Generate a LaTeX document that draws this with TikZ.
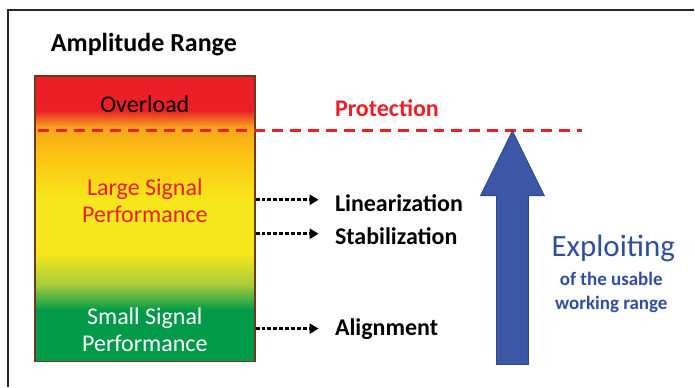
\documentclass[tikz,border=0pt]{standalone}
\usepackage{fontspec}
\setmainfont{Carlito}
\usepackage{tikz}
\usetikzlibrary{positioning,arrows.meta,calc}

\definecolor{ampred}{HTML}{EC1F26}
\definecolor{amporange}{HTML}{F7A51D}
\definecolor{ampgold}{HTML}{FCC412}
\definecolor{ampyellow}{HTML}{F6E81C}
\definecolor{amplime}{HTML}{A9CB3A}
\definecolor{ampgreen}{HTML}{019A48}
\definecolor{ampbrown}{HTML}{6E3A1E}
\definecolor{arrowblue}{HTML}{3B57A6}
\definecolor{textblue}{HTML}{2F4E9E}

% Verlauf fuer den Amplitudenbereich (unten gruen, oben rot)
\pgfdeclareverticalshading{amprange}{100bp}{%
  color(0bp)=(ampgreen); color(34bp)=(ampgreen); color(38.5bp)=(amplime);
  color(44bp)=(ampyellow); color(53bp)=(ampyellow); color(61bp)=(ampgold);
  color(66bp)=(amporange); color(69bp)=(ampred); color(100bp)=(ampred)}

\begin{document}
\begin{tikzpicture}[
    x=0.5pt, y=-0.5pt,
    % Style fuer den Balken
    rangebox/.style={
        draw=ampbrown,
        line width=0.8pt,
        shading=amprange,
        minimum width=110pt,
        minimum height=143pt,
        inner sep=0pt
    },
    % Style fuer die Beschriftungen rechts
    task/.style={
        font=\bfseries\fontsize{12}{14}\selectfont,
        anchor=west,
        inner sep=0pt
    },
    % Style fuer die Texte im Balken
    zone/.style={
        font=\fontsize{12}{13.5}\selectfont,
        align=center,
        inner sep=0pt
    },
    % gepunktete Pfeile
    link/.style={
        line width=1.4pt,
        dash pattern=on 2pt off 1pt,
        -{Triangle[length=4.5pt,width=5pt]}
    }
]
    % Rahmen (nur links und oben sichtbar)
    \draw[line width=0.8pt, black!85] (8,387) |- (695,10);
    \useasboundingbox (0,0) rectangle (695,387);

    % Titel
    \node[font=\bfseries\fontsize{13}{15}\selectfont] (title) at (144,45) {Amplitude Range};

    % Balken mit Farbverlauf
    \node[rangebox] (range) at (145,219) {};

    % Texte im Balken
    \node[zone] (over) at (145,104) {Overload};
    \node[zone, text=ampred] (large) at (145,201) {Large Signal\\Performance};
    \node[zone, text=white] (small) at (145,330) {Small Signal\\Performance};

    % Schutzgrenze
    \draw[ampred, line width=1.6pt, dash pattern=on 5.5pt off 3.5pt] (38,131) -- (583,131);
    \node[task, text=ampred] (prot) at (335,108) {Protection};

    % Aufgaben
    \node[task] (lin) at (335,203) {Linearization};
    \node[task] (stab) at (335,236) {Stabilization};
    \node[task] (align) at (335,329) {Alignment};

    \draw[link] (range.east |- 0,200) -- ([xshift=-8pt]lin.west |- 0,200);
    \draw[link] (range.east |- 0,234) -- ([xshift=-8pt]stab.west |- 0,234);
    \draw[link] (range.east |- 0,329) -- ([xshift=-8pt]align.west |- 0,329);

    % grosser Pfeil nach oben
    \draw[draw=arrowblue!80!black, fill=arrowblue, line width=0.4pt]
        (497,365) -- (497,196) -- (481,196) -- (513,131)
        -- (545,196) -- (529,196) -- (529,365) -- cycle;

    % Beschriftung des Pfeils
    \node[text=textblue, font=\fontsize{15.5}{17}\selectfont] (expl) at (614,249) {Exploiting};
    \node[text=textblue, font=\bfseries\fontsize{9.5}{12}\selectfont, align=center] (usable) at (612,293) {of the usable\\working range};
\end{tikzpicture}
\end{document}
